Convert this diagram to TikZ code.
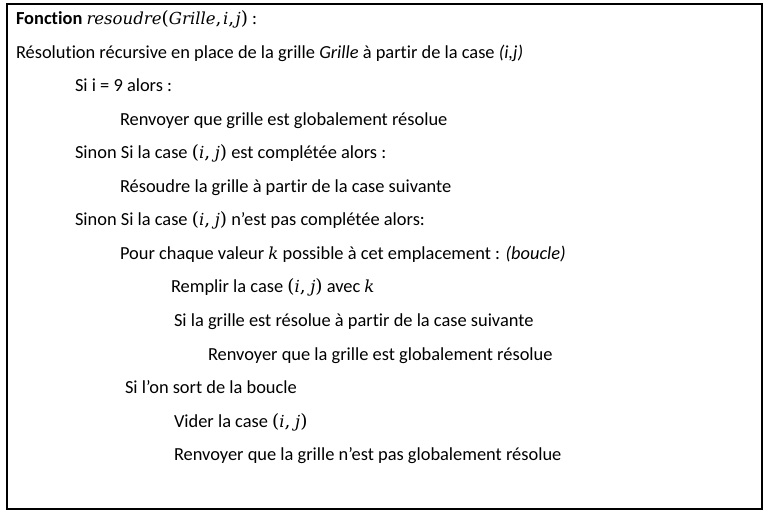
\documentclass[tikz,border=0pt]{standalone}
\usepackage{fontspec}
\setmainfont{Carlito}[Ligatures={NoCommon}]
\newfontfamily\cambfont{DejaVu Serif}[Scale=0.9]
\newfontfamily\cambpun{DejaVu Serif}
\newcommand{\mvar}[1]{{\cambfont\itshape #1}}
\newcommand{\mpun}[1]{{\cambpun #1}}
\newcommand{\mcom}{\mpun{,}\kern0.25em}
\newcommand{\mcomt}{\mpun{,}\kern0.08em}
\begin{document}
\begin{tikzpicture}[x=1bp,y=-1bp,
  line/.style={anchor=base west,inner sep=0pt,outer sep=0pt,font=\fontsize{18.4bp}{21bp}\selectfont},
  frame/.style={draw=black,line width=1.5bp}]
\useasboundingbox (0,0) rectangle (769,518);
\fill[white] (0,0) rectangle (769,518);
\draw[frame] (7,4) rectangle (762,509);
\node[line] (l1) at (16,25) {\textbf{Fonction} \mvar{resoudre}\mpun{(}\mvar{Grille}\mcomt\mvar{i}\mcomt\mvar{j}\mpun{)} :};
\node[line] (l2) at (16,58.5) {Résolution récursive en place de la grille \textit{Grille} à partir de la case \textit{(i,j)}};
\node[line] (l3) at (75,92) {Si i = 9 alors :};
\node[line] (l4) at (120,125.5) {Renvoyer que grille est globalement résolue};
\node[line] (l5) at (75,159) {Sinon Si la case \mpun{(}\mvar{i}\mcom\mvar{j}\mpun{)} est complétée alors :};
\node[line] (l6) at (120,192.5) {Résoudre la grille à partir de la case suivante};
\node[line] (l7) at (75,226) {Sinon Si la case \mpun{(}\mvar{i}\mcom\mvar{j}\mpun{)} n’est pas complétée alors:};
\node[line] (l8) at (120,259.5) {Pour chaque valeur \mvar{k} possible à cet emplacement : \textit{(boucle)}};
\node[line] (l9) at (171,293) {Remplir la case \mpun{(}\mvar{i}\mcom\mvar{j}\mpun{)} avec \mvar{k}};
\node[line] (l10) at (174,326.5) {Si la grille est résolue à partir de la case suivante};
\node[line] (l11) at (208,360) {Renvoyer que la grille est globalement résolue};
\node[line] (l12) at (125,393.5) {Si l’on sort de la boucle};
\node[line] (l13) at (174,427) {Vider la case \mpun{(}\mvar{i}\mcom\mvar{j}\mpun{)}};
\node[line] (l14) at (174,460.5) {Renvoyer que la grille n’est pas globalement résolue};
\end{tikzpicture}
\end{document}
